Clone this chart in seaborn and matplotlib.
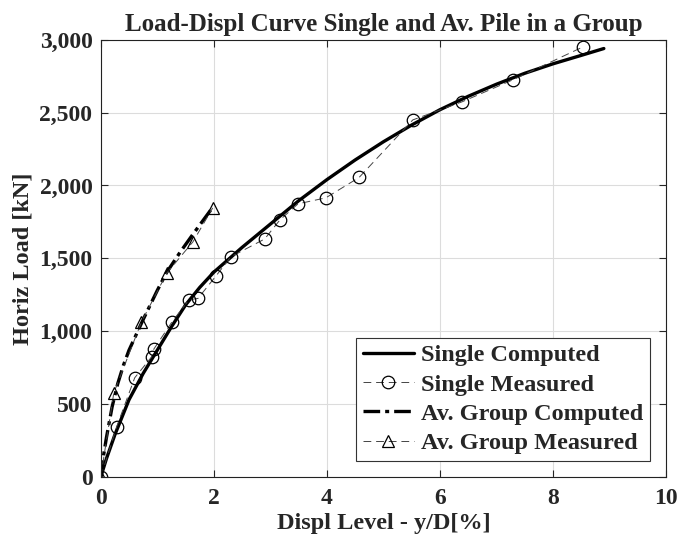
import seaborn as sns
import matplotlib.pyplot as plt
import matplotlib.ticker as mticker

sns.set_style("white")
plt.rcParams['font.family'] = ['Liberation Serif', 'DejaVu Serif']
plt.rcParams['font.weight'] = 'bold'

# single pile, computed curve
single_comp_x = [0, 0.1, 0.25, 0.5, 0.75, 1.0, 1.25, 1.5, 1.75, 2.0, 2.5, 3.0, 3.5, 4.0, 4.5, 5.0,
                 5.5, 6.0, 6.5, 7.0, 7.5, 8.0, 8.5, 8.9]
single_comp_y = [0, 125, 290, 530, 710, 870, 1030, 1180, 1300, 1405, 1575, 1735, 1895, 2040, 2175, 2300,
                 2415, 2520, 2612, 2695, 2770, 2835, 2893, 2940]

# single pile, measured
single_meas_x = [0, 0.28, 0.6, 0.9, 0.94, 1.26, 1.56, 1.72, 2.04, 2.3, 2.9, 3.17, 3.49, 3.98, 4.57, 5.52, 6.39, 7.29, 8.53]
single_meas_y = [0, 343, 680, 824, 878, 1064, 1215, 1225, 1380, 1510, 1633, 1764, 1874, 1915, 2055, 2450, 2574, 2725, 2951]

# average pile in group, computed
group_comp_x = [0, 0.05, 0.1, 0.2, 0.3, 0.4, 0.5, 0.75, 1.0, 1.16, 1.4, 1.63, 1.8, 1.98]
group_comp_y = [0, 150, 270, 480, 640, 765, 870, 1080, 1280, 1400, 1540, 1665, 1755, 1850]

# average pile in group, measured
group_meas_x = [0, 0.23, 0.72, 1.17, 1.63, 1.98]
group_meas_y = [0, 576, 1064, 1400, 1613, 1846]

fig = plt.figure(figsize=(6.81, 5.45), dpi=100)
ax = fig.add_axes([0.148, 0.125, 0.83, 0.802])

sns.lineplot(x=single_comp_x, y=single_comp_y, ax=ax, color='k', lw=2.4,
             sort=False, estimator=None, label='Single Computed')
sns.lineplot(x=single_meas_x, y=single_meas_y, ax=ax, color='#444444', lw=0.7,
             linestyle=(0, (8, 5)), marker='o', markersize=9,
             markerfacecolor='none', markeredgecolor='k', markeredgewidth=0.9,
             sort=False, estimator=None, label='Single Measured')
sns.lineplot(x=group_comp_x, y=group_comp_y, ax=ax, color='k', lw=2.4,
             linestyle=(0, (5, 1.5, 1.2, 1.5)),
             sort=False, estimator=None, label='Av. Group Computed')
sns.lineplot(x=group_meas_x, y=group_meas_y, ax=ax, color='#444444', lw=0.7,
             linestyle=(0, (8, 5)), marker='^', markersize=9,
             markerfacecolor='none', markeredgecolor='k', markeredgewidth=0.9,
             sort=False, estimator=None, label='Av. Group Measured')

ax.set_xlim(0, 10)
ax.set_ylim(0, 3000)
ax.set_xticks([0, 2, 4, 6, 8, 10])
ax.set_yticks(range(0, 3001, 500))
ax.yaxis.set_major_formatter(mticker.FuncFormatter(lambda v, p: f'{int(v):,}'))
ax.tick_params(direction='in', length=5, width=0.8, labelsize=17, top=True, right=True,
               bottom=True, left=True)
ax.tick_params(axis='x', pad=8)
ax.tick_params(axis='y', pad=6)
for lab in ax.get_xticklabels() + ax.get_yticklabels():
    lab.set_fontweight('bold')
ax.grid(True, color='#dcdcdc', lw=0.8)
for s in ax.spines.values():
    s.set_color('#222222')
    s.set_linewidth(0.8)

ax.set_xlabel('Displ Level - y/D[%]', fontsize=17.5, fontweight='bold', labelpad=3)
ax.set_ylabel('Horiz Load [kN]', fontsize=17.5, fontweight='bold', labelpad=4)
ax.set_title('Load-Displ Curve Single and Av. Pile in a Group', fontsize=18,
             fontweight='bold', pad=6)

leg = ax.legend(loc='lower right', prop={'size': 17.5, 'weight': 'bold'},
                fancybox=False, framealpha=1, edgecolor='#333333',
                handlelength=2.1, handletextpad=0.3, borderpad=0.28,
                labelspacing=0.3, borderaxespad=0.65)
leg.get_frame().set_linewidth(0.8)

fig.savefig('out.png', dpi=100)
